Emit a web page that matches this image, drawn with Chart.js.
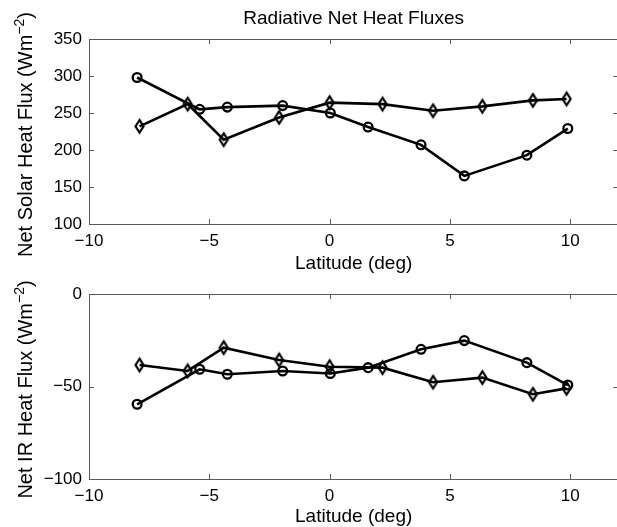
<!DOCTYPE html>
<html>
<head>
<meta charset="utf-8">
<script src="https://cdn.jsdelivr.net/npm/chart.js@4.4.1/dist/chart.umd.min.js"></script>
<style>
  html, body { margin: 0; padding: 0; background: #fff; overflow: hidden; }
  #wrap { position: relative; width: 617px; height: 527px; overflow: hidden; background: #fff; }
  #wrap canvas { position: absolute; left: 0; top: 0; }
</style>
</head>
<body>
<div id="wrap">
  <canvas id="solar" width="625" height="527"></canvas>
  <canvas id="ir" width="625" height="527"></canvas>
</div>
<script>
// Latitudes of the two sets of stations (deg)
const latCircle  = [-8.0, -5.4, -4.25, -1.95, 0.03, 1.6, 3.8, 5.6, 8.2, 9.9];
const latDiamond = [-7.9, -5.9, -4.4, -2.1, 0.0, 2.2, 4.3, 6.35, 8.45, 9.85];

// Net solar heat flux (W m^-2)
const solarCircle  = [298, 255, 258, 260, 250, 231, 207, 165, 193, 229];
const solarDiamond = [232, 262, 214, 244, 264, 262, 253, 259, 267, 269];

// Net IR heat flux (W m^-2)
const irCircle  = [-59.6, -40.7, -43.4, -41.6, -43.0, -39.8, -29.9, -25.2, -37.1, -49.2];
const irDiamond = [-38.4, -41.6, -29.0, -35.7, -39.3, -39.8, -47.7, -45.2, -54.2, -51.0];

// Tick values
const xTicks     = [-10, -5, 0, 5, 10];
const solarTicks = [100, 150, 200, 250, 300, 350];
const irTicks    = [-100, -50, 0];

const FONT = '"Liberation Sans", Arial, Helvetica, sans-serif';
const AXIS_GRAY = '#5a5a5a';

function pts(xs, ys) { return xs.map((x, i) => ({ x: x, y: ys[i] })); }
function minus(v) { return String(v).replace('-', '\u2212'); }

// Open diamond marker, taller than wide
function diamondMarker() {
  const c = document.createElement('canvas');
  c.width = 15; c.height = 19;
  const g = c.getContext('2d');
  g.strokeStyle = '#000';
  g.lineWidth = 2.2;
  g.lineJoin = 'miter';
  g.beginPath();
  g.moveTo(7.5, 3.2);
  g.lineTo(11.5, 9.5);
  g.lineTo(7.5, 15.8);
  g.lineTo(3.5, 9.5);
  g.closePath();
  g.stroke();
  return c;
}
const diamond = diamondMarker();

// Boxed axes with inward ticks, plus title and axis labels
function framePlugin(opts) {
  return {
    id: 'frame',
    beforeDatasetsDraw(chart) {
      const { ctx, chartArea: a, scales } = chart;
      ctx.save();
      ctx.strokeStyle = AXIS_GRAY;
      ctx.lineWidth = 1;
      ctx.beginPath();
      ctx.rect(Math.round(a.left) + 0.5, Math.round(a.top) + 0.5,
               Math.round(a.right - a.left), Math.round(a.bottom - a.top));
      const tl = 5;
      xTicks.forEach(v => {
        const px = Math.round(scales.x.getPixelForValue(v)) + 0.5;
        ctx.moveTo(px, a.bottom); ctx.lineTo(px, a.bottom - tl);
        ctx.moveTo(px, a.top); ctx.lineTo(px, a.top + tl);
      });
      opts.yTicks.forEach(v => {
        const py = Math.round(scales.y.getPixelForValue(v)) + 0.5;
        ctx.moveTo(a.left, py); ctx.lineTo(a.left + tl, py);
        ctx.moveTo(a.right, py); ctx.lineTo(a.right - tl, py);
      });
      ctx.stroke();
      ctx.restore();
    },
    afterDraw(chart) {
      const { ctx, chartArea: a } = chart;
      const cx = (a.left + a.right) / 2;
      ctx.save();
      ctx.fillStyle = '#000';
      if (opts.title) {
        ctx.font = '19px ' + FONT;
        ctx.textAlign = 'center';
        ctx.textBaseline = 'alphabetic';
        ctx.fillText(opts.title, cx, a.top - 15);
      }
      // x label
      ctx.font = '19px ' + FONT;
      ctx.textAlign = 'center';
      ctx.textBaseline = 'alphabetic';
      ctx.fillText('Latitude (deg)', cx, a.bottom + opts.xLabelOffset);

      // y label with superscript, rotated
      const main = opts.yLabel + ' (Wm';
      const sup = '\u22122';
      const close = ')';
      const big = '20px ' + FONT, small = '14px ' + FONT;
      ctx.font = big;
      const wMain = ctx.measureText(main).width;
      const wClose = ctx.measureText(close).width;
      ctx.font = small;
      const wSup = ctx.measureText(sup).width;
      const total = wMain + wSup + wClose;
      const cy = (a.top + a.bottom) / 2 + 3;
      ctx.translate(opts.yLabelX, cy);
      ctx.rotate(-Math.PI / 2);
      ctx.textAlign = 'left';
      ctx.textBaseline = 'alphabetic';
      const x0 = -total / 2;
      ctx.font = big;
      ctx.fillText(main, x0, 0);
      ctx.font = small;
      ctx.fillText(sup, x0 + wMain, -8);
      ctx.font = big;
      ctx.fillText(close, x0 + wMain + wSup, 0);
      ctx.restore();
    }
  };
}

function lineSet(data, marker) {
  return {
    data: data,
    showLine: true,
    borderColor: '#000',
    borderWidth: 2.6,
    pointStyle: marker,
    pointRadius: 4.4,
    pointBorderWidth: 2.3,
    pointBorderColor: '#000',
    pointBackgroundColor: 'rgba(0,0,0,0)',
    pointHoverRadius: 4.4
  };
}

function makeChart(id, cfg) {
  return new Chart(document.getElementById(id), {
    type: 'scatter',
    data: {
      datasets: [
        lineSet(pts(latCircle, cfg.circle), 'circle'),
        lineSet(pts(latDiamond, cfg.diamond), diamond)
      ]
    },
    options: {
      responsive: false,
      animation: false,
      devicePixelRatio: 1,
      events: [],
      layout: { padding: { top: cfg.top, bottom: cfg.bottom, left: 0, right: 6 } },
      plugins: { legend: { display: false }, tooltip: { enabled: false }, title: { display: false } },
      scales: {
        x: {
          type: 'linear', min: -10, max: 12,
          grid: { display: false, drawTicks: false },
          border: { display: false },
          afterBuildTicks: s => { s.ticks = xTicks.map(v => ({ value: v })); },
          afterFit: s => { s.height = 30; },
          ticks: { color: '#000', font: { family: FONT, size: 17 }, padding: 7,
                   maxRotation: 0, autoSkip: false, callback: v => minus(v) }
        },
        y: {
          type: 'linear', min: cfg.min, max: cfg.max,
          grid: { display: false, drawTicks: false },
          border: { display: false },
          afterBuildTicks: s => { s.ticks = cfg.yTicks.map(v => ({ value: v })); },
          afterFit: s => { s.width = 89; },
          ticks: { color: '#000', font: { family: FONT, size: 17 }, padding: 7,
                   autoSkip: false, callback: v => minus(v) }
        }
      }
    },
    plugins: [framePlugin({
      title: cfg.title, yLabel: cfg.yLabel, yTicks: cfg.yTicks,
      xLabelOffset: cfg.xLabelOffset, yLabelX: 32
    })]
  });
}

makeChart('solar', {
  circle: solarCircle, diamond: solarDiamond,
  min: 100, max: 350, yTicks: solarTicks,
  top: 39, bottom: 527 - 224 - 30,
  title: 'Radiative Net Heat Fluxes',
  yLabel: 'Net Solar Heat Flux',
  xLabelOffset: 45
});

makeChart('ir', {
  circle: irCircle, diamond: irDiamond,
  min: -100, max: 0, yTicks: irTicks,
  top: 294, bottom: 527 - 479 - 30,
  title: null,
  yLabel: 'Net IR Heat Flux',
  xLabelOffset: 43
});
</script>
</body>
</html>
